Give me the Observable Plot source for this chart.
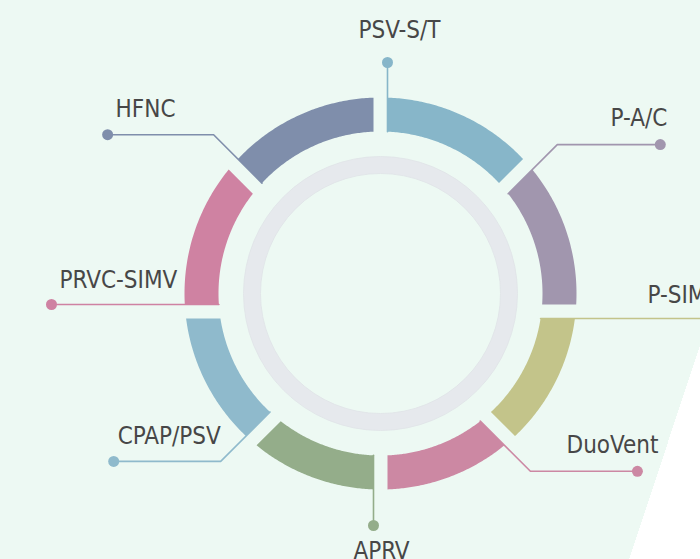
<!DOCTYPE html>
<html><head><meta charset="utf-8">
<script src="https://cdn.jsdelivr.net/npm/d3@7"></script>
<script src="https://cdn.jsdelivr.net/npm/@observablehq/plot@0.6"></script>
<style>
html,body{margin:0;padding:0;}
body{width:700px;height:559px;overflow:hidden;background:#fff;}
#chart{width:700px;height:559px;overflow:hidden;background:linear-gradient(108.3deg,#edf9f3 773px,#ffffff 773px);}
</style></head><body><div id="chart"></div>
<script>
// ---- data ----
const modes  = ["PSV-S/T","P-A/C","P-SIMV","DuoVent","APRV","CPAP/PSV","PRVC-SIMV","HFNC"];
const shares = [1,1,1,1,1,1,1,1];
// ---- styles ----
const palette = ["#87b6c9","#a196ae","#c3c48a","#cc88a3","#94ad8a","#8fbacc","#cf82a2","#7f8eab"];
// ---- layout (pixels) ----
const R_OUT = 196, R_IN = 162, GAP = 7, CUT_Y = -18;
const leaderReach = [249, 243, 345, 219, 214, 219, 329, 243];
const leaderRun   = [0, 103, 0, 107, 0, -107, 0, -106];
const labelAnchor = ["middle","end","start","end","middle","start","start","start"];
const labelDx     = [12, 7, -78, 21, 8, 4, 8, 8];
const labelDy     = [-25, -19, -16, -18, 33, -17, -17, -18];

const TAU = 2 * Math.PI;
const total = d3.sum(shares);
let acc = 0;
const bounds = shares.map(v => { const a0 = acc / total * TAU; acc += v; return [a0, acc / total * TAU]; });

function edgeLine(alpha, side) {
  const u = [Math.sin(alpha), Math.cos(alpha)];
  const n = [Math.cos(alpha), -Math.sin(alpha)];
  return {u, q: [side * GAP * n[0], CUT_Y + side * GAP * n[1]]};
}
function hit(L, r) {
  const b = L.q[0] * L.u[0] + L.q[1] * L.u[1];
  const c = L.q[0] * L.q[0] + L.q[1] * L.q[1] - r * r;
  return -b + Math.sqrt(b * b - c);
}
function at(L, t) { return [L.q[0] + t * L.u[0], L.q[1] + t * L.u[1]]; }
function ang(p) { let a = Math.atan2(p[0], p[1]); if (a < 0) a += TAU; return a; }
function arcRange(Ls, Le, r) {
  const s = ang(at(Ls, hit(Ls, r)));
  let e = ang(at(Le, hit(Le, r)));
  if (e < s) e += TAU;
  return [s, e];
}

const segPts = [];
const leaderPts = [];
const dots = [];
const labels = [];
modes.forEach((name, i) => {
  const [a0, a1] = bounds[i];
  const Ls = edgeLine(a0, 1), Le = edgeLine(a1, -1);
  const [so, eo] = arcRange(Ls, Le, R_OUT);
  const [si, ei] = arcRange(Ls, Le, R_IN);
  const N = 80;
  for (let k = 0; k <= N; k++) {
    const a = so + (eo - so) * k / N;
    segPts.push({name, x: R_OUT * Math.sin(a), y: R_OUT * Math.cos(a)});
  }
  for (let k = N; k >= 0; k--) {
    const a = si + (ei - si) * k / N;
    segPts.push({name, x: R_IN * Math.sin(a), y: R_IN * Math.cos(a)});
  }
  const p0 = at(Ls, hit(Ls, R_IN));
  const pb = at(Ls, leaderReach[i]);
  const pd = [pb[0] + leaderRun[i], pb[1]];
  [p0, pb, pd].forEach(p => leaderPts.push({name, x: p[0], y: p[1]}));
  dots.push({name, x: pd[0], y: pd[1]});
  labels.push({name, x: pd[0] + labelDx[i], y: pd[1] - labelDy[i], anchor: labelAnchor[i]});
});

const font = "'Liberation Sans Narrow','Arial Narrow','DejaVu Sans Condensed',Roboto,sans-serif";
const textMark = anchor => Plot.text(labels, {
  filter: d => d.anchor === anchor, x: "x", y: "y", text: "name",
  textAnchor: anchor, lineAnchor: "bottom", fontSize: 24, fill: "#474747",
  fontFamily: font
});

const chart = Plot.plot({
  width: 700, height: 559, margin: 0,
  x: {domain: [-380, 320], axis: null},
  y: {domain: [-266, 293], axis: null},
  color: {domain: modes, range: palette},
  style: {background: "transparent", overflow: "hidden"},
  marks: [
    Plot.dot([0], {x: () => 0, y: () => 0, r: 128.5, stroke: "#e6e9ed", strokeWidth: 17, fill: "none"}),
    Plot.dot([0], {x: () => 0, y: () => 0, r: 137, stroke: "#dfe3e7", strokeWidth: 0.8, fill: "none"}),
    Plot.dot([0], {x: () => 0, y: () => 0, r: 120, stroke: "#dfe3e7", strokeWidth: 0.8, fill: "none"}),
    Plot.line(segPts, {x: "x", y: "y", z: "name", fill: "name", stroke: null, curve: "linear-closed"}),
    Plot.line(leaderPts, {x: "x", y: "y", z: "name", stroke: "name", strokeWidth: 1.6, curve: "linear"}),
    Plot.dot(dots, {x: "x", y: "y", fill: "name", r: 5.5}),
    textMark("start"), textMark("middle"), textMark("end")
  ]
});
document.getElementById("chart").appendChild(chart);
</script></body></html>
